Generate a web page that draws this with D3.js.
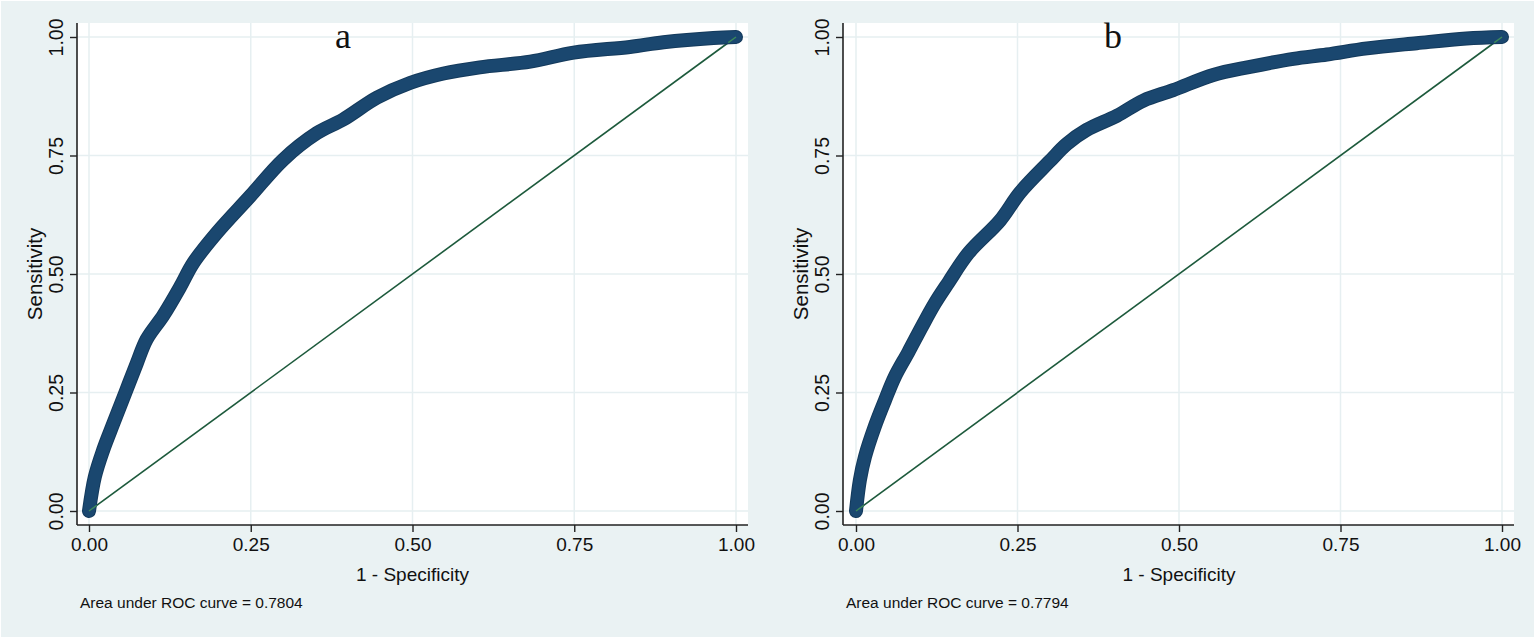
<!DOCTYPE html>
<html>
<head>
<meta charset="utf-8">
<script src="https://cdn.jsdelivr.net/npm/d3@7"></script>
<style>
  html, body { margin: 0; padding: 0; background: #ffffff; }
  svg { display: block; }
</style>
</head>
<body>
<svg id="chart" width="1535" height="638"></svg>
<script>
// ---------------- DATA ----------------
const ticks = [0, 0.25, 0.5, 0.75, 1];
const tickLabels = ["0.00", "0.25", "0.50", "0.75", "1.00"];
const panelTitles = ["a", "b"];
const aucValues = ["0.7804", "0.7794"];
const xAxisTitle = "1 - Specificity";
const yAxisTitle = "Sensitivity";

// Panel a ROC curve (1 - specificity, sensitivity)
const rocA_fpr = [0, 0.009, 0.022, 0.038, 0.056, 0.074, 0.089, 0.115, 0.141, 0.161, 0.197, 0.249, 0.300, 0.352, 0.393, 0.445, 0.496, 0.548, 0.604, 0.682, 0.749, 0.836, 0.888, 0.965, 1.0];
const rocA_tpr = [0, 0.072, 0.129, 0.186, 0.249, 0.312, 0.362, 0.413, 0.473, 0.523, 0.586, 0.664, 0.741, 0.797, 0.826, 0.872, 0.903, 0.923, 0.936, 0.948, 0.967, 0.979, 0.989, 0.998, 1.0];

// Panel b ROC curve
const rocB_fpr = [0, 0.006, 0.014, 0.029, 0.045, 0.060, 0.081, 0.102, 0.122, 0.143, 0.174, 0.223, 0.254, 0.300, 0.326, 0.357, 0.404, 0.445, 0.491, 0.553, 0.610, 0.677, 0.729, 0.791, 0.868, 0.945, 1.0];
const rocB_tpr = [0, 0.065, 0.115, 0.178, 0.234, 0.283, 0.335, 0.389, 0.438, 0.482, 0.544, 0.613, 0.672, 0.738, 0.774, 0.804, 0.834, 0.866, 0.888, 0.920, 0.937, 0.954, 0.963, 0.976, 0.987, 0.997, 1.0];

const refLine = [0, 1];

// ---------------- LAYOUT ----------------
const W = 1535, H = 638;
const BG = "#eaf2f3";
const GRID = "#e6eff1";
const NAVY = "#1a476f";
const NAVY_EDGE = "#143a5c";
const GREEN = "#1d5a3c";
const AXIS = "#222222";
const SANS = "'Liberation Sans', Arial, Helvetica, sans-serif";
const SERIF = "'Liberation Serif', 'Times New Roman', serif";

const panels = [
  { plotLeft: 77, plotRight: 748, plotTop: 23, plotBottom: 525, x0: 89, x1: 736, titleX: 343, fpr: rocA_fpr, tpr: rocA_tpr },
  { plotLeft: 843, plotRight: 1514, plotTop: 23, plotBottom: 525, x0: 856, x1: 1502, titleX: 1113, fpr: rocB_fpr, tpr: rocB_tpr }
];
const yTop = 37, yBottom = 511;

const svg = d3.select("#chart");

// outer background
svg.append("rect").attr("x", 0).attr("y", 0).attr("width", W).attr("height", H).attr("fill", "#ffffff");
svg.append("rect").attr("x", 1).attr("y", 1).attr("width", W - 2).attr("height", H - 2).attr("fill", BG);

panels.forEach((p, i) => {
  const x = d3.scaleLinear().domain([0, 1]).range([p.x0, p.x1]);
  const y = d3.scaleLinear().domain([0, 1]).range([yBottom, yTop]);
  const g = svg.append("g");

  // plot region
  g.append("rect")
    .attr("x", p.plotLeft).attr("y", p.plotTop)
    .attr("width", p.plotRight - p.plotLeft).attr("height", p.plotBottom - p.plotTop)
    .attr("fill", "#ffffff");

  // gridlines
  g.selectAll(".vgrid").data(ticks).enter().append("line")
    .attr("x1", d => x(d)).attr("x2", d => x(d))
    .attr("y1", p.plotTop).attr("y2", p.plotBottom)
    .attr("stroke", GRID).attr("stroke-width", 1.5);
  g.selectAll(".hgrid").data(ticks).enter().append("line")
    .attr("x1", p.plotLeft).attr("x2", p.plotRight)
    .attr("y1", d => y(d)).attr("y2", d => y(d))
    .attr("stroke", GRID).attr("stroke-width", 1.5);

  // axes
  const xAxis = d3.axisBottom(x).tickValues(ticks).tickFormat((d, k) => tickLabels[k]).tickSize(7).tickPadding(6);
  const yAxis = d3.axisLeft(y).tickValues(ticks).tickFormat((d, k) => tickLabels[k]).tickSize(7).tickPadding(6);

  const gx = g.append("g").attr("transform", `translate(0,${p.plotBottom})`).call(xAxis);
  gx.select(".domain").remove();
  gx.append("line").attr("x1", p.plotLeft).attr("x2", p.plotRight).attr("y1", 0).attr("y2", 0)
    .attr("stroke", AXIS).attr("stroke-width", 1.6);
  gx.selectAll(".tick line").attr("stroke", AXIS).attr("stroke-width", 1.4);
  gx.selectAll(".tick text").attr("fill", "#111").style("font-family", SANS).style("font-size", "19px");

  const gy = g.append("g").attr("transform", `translate(${p.plotLeft},0)`).call(yAxis);
  gy.select(".domain").remove();
  gy.append("line").attr("x1", 0).attr("x2", 0).attr("y1", p.plotTop).attr("y2", p.plotBottom)
    .attr("stroke", AXIS).attr("stroke-width", 1.6);
  gy.selectAll(".tick line").attr("stroke", AXIS).attr("stroke-width", 1.4);
  gy.selectAll(".tick text")
    .attr("fill", "#111").style("font-family", SANS).style("font-size", "19.5px")
    .attr("x", null).attr("dy", null)
    .attr("text-anchor", "middle")
    .attr("transform", "translate(-14,0) rotate(-90)");

  // reference diagonal
  g.append("line")
    .attr("x1", x(refLine[0])).attr("y1", y(refLine[0]))
    .attr("x2", x(refLine[1])).attr("y2", y(refLine[1]))
    .attr("stroke", GREEN).attr("stroke-width", 1.6);

  // ROC curve
  const pts = p.fpr.map((v, k) => [v, p.tpr[k]]);
  const line = d3.line().x(d => x(d[0])).y(d => y(d[1])).curve(d3.curveCatmullRom.alpha(0.5));
  g.append("path").datum(pts).attr("d", line)
    .attr("fill", "none").attr("stroke", NAVY_EDGE).attr("stroke-width", 14)
    .attr("stroke-linecap", "round").attr("stroke-linejoin", "round");
  g.append("path").datum(pts).attr("d", line)
    .attr("fill", "none").attr("stroke", NAVY).attr("stroke-width", 12)
    .attr("stroke-linecap", "round").attr("stroke-linejoin", "round");
  // diagonal ends visible over curve
  g.append("line")
    .attr("x1", x(0)).attr("y1", y(0)).attr("x2", x(0.012)).attr("y2", y(0.012))
    .attr("stroke", "#3c8a5a").attr("stroke-width", 1.4);
  g.append("line")
    .attr("x1", x(0.988)).attr("y1", y(0.988)).attr("x2", x(1)).attr("y2", y(1))
    .attr("stroke", "#3c8a5a").attr("stroke-width", 1.4);

  // panel title
  g.append("text").attr("x", p.titleX).attr("y", 48)
    .attr("text-anchor", "middle")
    .style("font-family", SERIF).style("font-size", "36px").attr("fill", "#111")
    .text(panelTitles[i]);

  // axis titles
  g.append("text").attr("x", (p.x0 + p.x1) / 2).attr("y", 581)
    .attr("text-anchor", "middle")
    .style("font-family", SANS).style("font-size", "19px").attr("fill", "#111")
    .text(xAxisTitle);
  g.append("text")
    .attr("transform", `translate(${p.plotLeft - 35},${(yTop + yBottom) / 2}) rotate(-90)`)
    .attr("text-anchor", "middle")
    .style("font-family", SANS).style("font-size", "20.5px").attr("fill", "#111")
    .text(yAxisTitle);

  // note
  g.append("text").attr("x", p.plotLeft + 3).attr("y", 608)
    .style("font-family", SANS).style("font-size", "15.5px").attr("fill", "#111")
    .text("Area under ROC curve = " + aucValues[i]);
});
</script>
</body>
</html>
